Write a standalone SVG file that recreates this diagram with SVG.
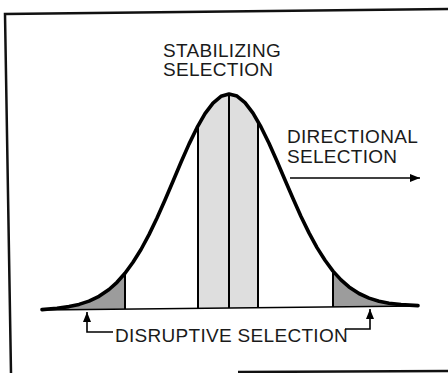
<svg xmlns="http://www.w3.org/2000/svg" width="448" height="373" viewBox="0 0 448 373">
<style>
.lbl{font-family:"Liberation Sans",Arial,sans-serif;font-size:19px;fill:#1a1a1a;letter-spacing:0.3px}
.frame{stroke:#111;stroke-width:2.5;fill:none}
.curve{stroke:#000;stroke-width:3.6;fill:none;stroke-linejoin:round;stroke-linecap:round}
.vline{stroke:#000;stroke-width:2;fill:none}
.base{stroke:#000;stroke-width:1.6;fill:none}
.conn{stroke:#000;stroke-width:1.6;fill:none}
.light{fill:#dedede}
.dark{fill:#9c9c9c}
</style>
<defs>
<marker id="ah" viewBox="0 0 10 8" refX="10" refY="4" markerWidth="10" markerHeight="8" markerUnits="userSpaceOnUse" orient="auto">
<path d="M0,0 L10,4 L0,8 Z" fill="#000"/>
</marker>
</defs>
<g id="frame">
<path class="frame" d="M448,9 L5,14 L11,373"/>
<path class="frame" d="M238,372 L448,371"/>
</g>
<g id="distribution">
<path class="dark" d="M42,310 L57,308.2 L69,306.6 L79,304.4 L89,301.1 L99,296.3 L109,289.5 L117,282.3 L125,273.3 L125,309.1 Z"/>
<path class="dark" d="M333,271.1 L341,279.9 L349,286.9 L359,293.5 L369,298.1 L379,301.2 L389,303.2 L401,304.6 L418,306 L333,306.9 Z"/>
<path class="light" d="M198,308.4 L198,125.8 L205,113.7 L213,103.1 L221,96.3 L229,94 L237,96.1 L245,102.7 L253,113.2 L258,121.5 L258,307.8 Z"/>
<path class="base" d="M42,310 L418,306"/>
<path class="vline" d="M125,273.3 L125,309.1 M198,125.8 L198,308.4 M229,94 L229,308 M258,121.5 L258,307.8 M333,271.1 L333,306.9"/>
<path class="curve" d="M42,309.6 L57,308.2 L69,306.6 L79,304.4 L89,301.1 L99,296.3 L109,289.5 L117,282.3 L125,273.3 L133,262.3 L141,249.5 L149,234.6 L157,218 L165,199.9 L173,181.2 L181,162.3 L189,144.1 L197,127.7 L205,113.7 L213,103.1 L221,96.3 L229,94 L237,96.1 L245,102.7 L253,113.2 L261,127 L269,143.3 L277,161.3 L285,180 L293,198.5 L301,216.5 L309,232.9 L317,247.6 L325,260.3 L333,271.1 L341,279.9 L349,286.9 L359,293.5 L369,298.1 L379,301.2 L389,303.2 L401,304.6 L418,305.6"/>
</g>
<g id="stabilizing">
<text class="lbl" x="163" y="57">STABILIZING</text>
<text class="lbl" x="163" y="76">SELECTION</text>
</g>
<g id="directional">
<text class="lbl" x="287" y="143">DIRECTIONAL</text>
<text class="lbl" x="287" y="163">SELECTION</text>
</g>
<g id="disruptive">
<text class="lbl" x="115" y="342">DISRUPTIVE SELECTION</text>
</g>
<g id="connectors">
<path class="conn" d="M290,178 L420,178" marker-end="url(#ah)"/>
<path class="conn" d="M113,332 L87,332 L87,312" marker-end="url(#ah)"/>
<path class="conn" d="M345,329 L370,329 L370,309" marker-end="url(#ah)"/>
</g>
</svg>
